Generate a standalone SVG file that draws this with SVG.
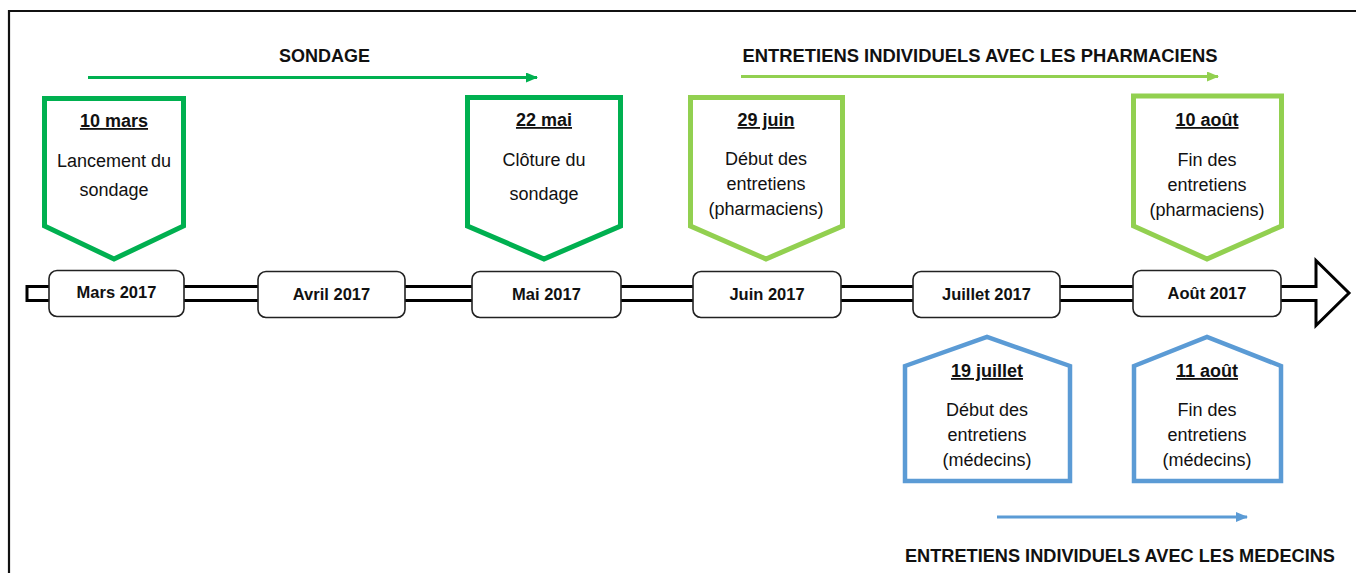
<svg xmlns="http://www.w3.org/2000/svg" width="1356" height="573" viewBox="0 0 1356 573">
<style>
  text { font-family: "Liberation Sans", Arial, sans-serif; fill: #111; text-anchor: middle; }
  .title { font-size: 18px; font-weight: bold; }
  .date { font-size: 18px; font-weight: bold; text-decoration: underline; }
  .body { font-size: 18px; }
  .month { font-size: 16.5px; font-weight: bold; }
  .mbox { fill: #fff; stroke: #222; stroke-width: 1.6; }
  .dg { fill: #fff; stroke: #00b050; stroke-width: 5; stroke-linejoin: miter; }
  .lg { fill: #fff; stroke: #92d050; stroke-width: 5; stroke-linejoin: miter; }
  .bl { fill: #fff; stroke: #5b9bd5; stroke-width: 4.5; stroke-linejoin: miter; }
</style>
<defs>
  <marker id="ahDG" markerUnits="userSpaceOnUse" markerWidth="12" markerHeight="10" refX="11" refY="5" orient="auto">
    <path d="M0,0 L12,5 L0,10 Z" fill="#00b050"/>
  </marker>
  <marker id="ahLG" markerUnits="userSpaceOnUse" markerWidth="12" markerHeight="10" refX="11" refY="5" orient="auto">
    <path d="M0,0 L12,5 L0,10 Z" fill="#92d050"/>
  </marker>
  <marker id="ahBL" markerUnits="userSpaceOnUse" markerWidth="12" markerHeight="10" refX="11" refY="5" orient="auto">
    <path d="M0,0 L12,5 L0,10 Z" fill="#5b9bd5"/>
  </marker>
</defs>
<rect width="1356" height="573" fill="#fff"/>
<!-- frame -->
<path d="M9,573 L9,11 L1356,11" fill="none" stroke="#111" stroke-width="2.2"/>

<!-- timeline -->
<g id="timeline">
  <polygon points="27,286.5 1316,286.5 1316,260.5 1349,293 1316,325.5 1316,300.5 27,300.5" fill="#fff" stroke="#000" stroke-width="3" stroke-linejoin="miter"/>
</g>

<g id="connectors">
  <line x1="88" y1="77.5" x2="537" y2="77.5" stroke="#00b050" stroke-width="3" marker-end="url(#ahDG)"/>
  <line x1="741" y1="76.5" x2="1218" y2="76.5" stroke="#92d050" stroke-width="3" marker-end="url(#ahLG)"/>
  <line x1="997" y1="517" x2="1247" y2="517" stroke="#5b9bd5" stroke-width="3" marker-end="url(#ahBL)"/>
</g>

<g id="label-sondage"><text class="title" x="324.5" y="62">SONDAGE</text></g>
<g id="label-pharma"><text class="title" x="980" y="62" textLength="475" lengthAdjust="spacingAndGlyphs">ENTRETIENS INDIVIDUELS AVEC LES PHARMACIENS</text></g>
<g id="label-medecins"><text class="title" x="1120" y="562" textLength="430" lengthAdjust="spacingAndGlyphs">ENTRETIENS INDIVIDUELS AVEC LES MEDECINS</text></g>

<!-- months -->
<g id="m-mars"><rect class="mbox" x="49" y="270.5" width="135" height="46" rx="8"/><text class="month" x="116.5" y="298">Mars 2017</text></g>
<g id="m-avril"><rect class="mbox" x="258" y="271.5" width="147" height="46" rx="8"/><text class="month" x="331.5" y="300">Avril 2017</text></g>
<g id="m-mai"><rect class="mbox" x="472" y="271.5" width="149" height="46" rx="8"/><text class="month" x="546.5" y="300">Mai 2017</text></g>
<g id="m-juin"><rect class="mbox" x="693" y="271.5" width="148" height="46" rx="8"/><text class="month" x="767" y="300">Juin 2017</text></g>
<g id="m-juillet"><rect class="mbox" x="913" y="271.5" width="147" height="46" rx="8"/><text class="month" x="986.5" y="300">Juillet 2017</text></g>
<g id="m-aout"><rect class="mbox" x="1133" y="270.5" width="148" height="46" rx="8"/><text class="month" x="1207" y="299">Août 2017</text></g>

<!-- green events -->
<g id="e-10mars">
  <polygon class="dg" points="44.5,98.5 183.5,98.5 183.5,226 114,259 44.5,226"/>
  <text class="date" x="114" y="127">10 mars</text>
  <text class="body" x="114" y="167">Lancement du</text>
  <text class="body" x="114" y="196">sondage</text>
</g>
<g id="e-22mai">
  <polygon class="dg" points="467.5,97.5 620.5,97.5 620.5,226 544,259 467.5,226"/>
  <text class="date" x="544" y="126">22 mai</text>
  <text class="body" x="544" y="166">Clôture du</text>
  <text class="body" x="544" y="200">sondage</text>
</g>
<g id="e-29juin">
  <polygon class="lg" points="690.5,97.5 842.5,97.5 842.5,226 766,259 690.5,226"/>
  <text class="date" x="766" y="126">29 juin</text>
  <text class="body" x="766" y="165">Début des</text>
  <text class="body" x="766" y="190">entretiens</text>
  <text class="body" x="766" y="215">(pharmaciens)</text>
</g>
<g id="e-10aout">
  <polygon class="lg" points="1133.5,96 1281.5,96 1281.5,226 1207,259 1133.5,226"/>
  <text class="date" x="1207" y="126">10 août</text>
  <text class="body" x="1207" y="166">Fin des</text>
  <text class="body" x="1207" y="191">entretiens</text>
  <text class="body" x="1207" y="216">(pharmaciens)</text>
</g>

<!-- blue events -->
<g id="e-19juillet">
  <polygon class="bl" points="905,366 987,337 1070,366 1070,481 905,481"/>
  <text class="date" x="987" y="377">19 juillet</text>
  <text class="body" x="987" y="416">Début des</text>
  <text class="body" x="987" y="441">entretiens</text>
  <text class="body" x="987" y="466">(médecins)</text>
</g>
<g id="e-11aout">
  <polygon class="bl" points="1134,366 1207,337 1281,366 1281,481 1134,481"/>
  <text class="date" x="1207" y="377">11 août</text>
  <text class="body" x="1207" y="416">Fin des</text>
  <text class="body" x="1207" y="441">entretiens</text>
  <text class="body" x="1207" y="466">(médecins)</text>
</g>
</svg>
